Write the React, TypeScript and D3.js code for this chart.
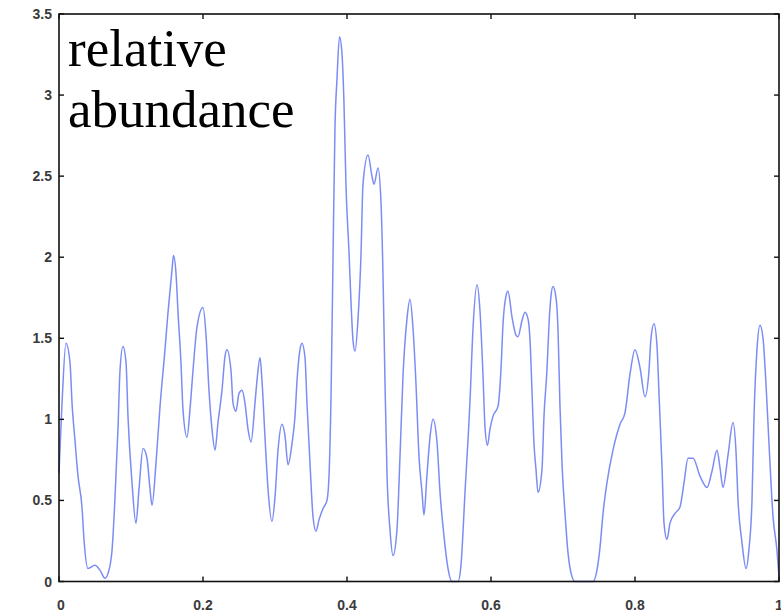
import React, { useEffect, useRef } from "react";
import * as d3 from "d3";

const xValues = [
  0, 0.0042, 0.0097, 0.0153, 0.0181, 0.0222, 0.0264, 0.0319, 0.0347, 0.0403, 0.05, 0.0569, 0.0639, 0.0681,
  0.0736, 0.0778, 0.0819, 0.0847, 0.0889, 0.0931, 0.0958, 0.1014, 0.1069, 0.1111, 0.1167, 0.1222, 0.1264,
  0.1292, 0.1347, 0.1403, 0.1472, 0.1514, 0.1569, 0.159, 0.1625, 0.1653, 0.1694, 0.1722, 0.1778, 0.1819,
  0.1861, 0.1917, 0.2, 0.2042, 0.2083, 0.2125, 0.2167, 0.2208, 0.2264, 0.2306, 0.2333, 0.2389, 0.2417,
  0.2458, 0.25, 0.2542, 0.2583, 0.2625, 0.2667, 0.2722, 0.275, 0.2792, 0.2819, 0.2861, 0.2903, 0.2958, 0.3,
  0.3042, 0.3097, 0.3139, 0.3181, 0.3236, 0.3278, 0.3306, 0.3347, 0.3375, 0.3417, 0.3444, 0.3486, 0.3528,
  0.3569, 0.3611, 0.3667, 0.3722, 0.375, 0.3778, 0.3806, 0.3833, 0.3861, 0.3896, 0.3931, 0.3958, 0.3986,
  0.4028, 0.4056, 0.4083, 0.4111, 0.4153, 0.4194, 0.4222, 0.4292, 0.4347, 0.4375, 0.4431, 0.4472, 0.45,
  0.4528, 0.4556, 0.4597, 0.4639, 0.4694, 0.4736, 0.4778, 0.4833, 0.4875, 0.4917, 0.4958, 0.5, 0.5042,
  0.5069, 0.5111, 0.5153, 0.5194, 0.525, 0.5292, 0.5347, 0.5403, 0.5458, 0.5542, 0.5583, 0.5639, 0.5708,
  0.575, 0.5806, 0.5847, 0.5889, 0.5917, 0.5951, 0.5986, 0.6028, 0.6097, 0.6139, 0.6167, 0.6208, 0.6236,
  0.6292, 0.6347, 0.6375, 0.6431, 0.6472, 0.6514, 0.6542, 0.6569, 0.6597, 0.6625, 0.6653, 0.6708, 0.6736,
  0.6778, 0.6806, 0.6833, 0.6861, 0.6903, 0.6931, 0.6958, 0.6986, 0.7028, 0.7069, 0.7125, 0.7167, 0.7417,
  0.7472, 0.7514, 0.7556, 0.7611, 0.7694, 0.7792, 0.7861, 0.7931, 0.8, 0.8069, 0.8139, 0.8194, 0.8222,
  0.8264, 0.8306, 0.8333, 0.8375, 0.8403, 0.8444, 0.8486, 0.8556, 0.8625, 0.8681, 0.8736, 0.8806, 0.8903,
  0.9, 0.9069, 0.9139, 0.9181, 0.9222, 0.9292, 0.9361, 0.9403, 0.9431, 0.9486, 0.9542, 0.9583, 0.9625,
  0.9653, 0.9694, 0.9736, 0.9778, 0.9819, 0.9861, 0.9917, 0.9972, 1.0,
];

const abundance = [
  0.67, 1.1, 1.47, 1.35, 1.1, 0.87, 0.65, 0.46, 0.26, 0.08, 0.1, 0.07, 0.02, 0.05,
  0.19, 0.52, 0.94, 1.3, 1.45, 1.35, 1.02, 0.61, 0.36, 0.57, 0.82, 0.76, 0.57,
  0.47, 0.73, 1.08, 1.43, 1.66, 1.92, 2.01, 1.9, 1.66, 1.35, 1.06, 0.89, 1.06,
  1.3, 1.57, 1.69, 1.52, 1.18, 0.94, 0.81, 0.98, 1.18, 1.39, 1.43, 1.3, 1.1,
  1.05, 1.16, 1.18, 1.1, 0.94, 0.86, 1.1, 1.24, 1.38, 1.24, 0.89, 0.57, 0.37, 0.52,
  0.81, 0.97, 0.9, 0.72, 0.85, 1.02, 1.24, 1.43, 1.47, 1.38, 1.1, 0.73, 0.4,
  0.31, 0.38, 0.45, 0.5, 0.65, 1.14, 2.0, 2.8, 3.1, 3.36, 3.25, 2.95, 2.44,
  2.03, 1.72, 1.49, 1.42, 1.62, 2.01, 2.45, 2.63, 2.5, 2.45, 2.55, 2.34, 1.89,
  1.22, 0.66, 0.32, 0.16, 0.32, 0.77, 1.27, 1.62, 1.74, 1.56, 1.22, 0.77, 0.55,
  0.41, 0.66, 0.89, 1.0, 0.86, 0.55, 0.28, 0.08, 0, 0, 0.1, 0.55, 1.11,
  1.56, 1.83, 1.67, 1.27, 0.95, 0.84, 0.94, 1.02, 1.08, 1.31, 1.59, 1.76, 1.79,
  1.63, 1.52, 1.51, 1.61, 1.66, 1.62, 1.49, 1.18, 0.85, 0.69, 0.55, 0.69, 1.02,
  1.31, 1.59, 1.76, 1.82, 1.75, 1.55, 1.08, 0.73, 0.42, 0.18, 0.03, 0, 0,
  0.07, 0.21, 0.42, 0.61, 0.81, 0.97, 1.04, 1.28, 1.43, 1.32, 1.14, 1.3, 1.5,
  1.59, 1.45, 1.16, 0.71, 0.36, 0.26, 0.36, 0.42, 0.46, 0.61, 0.76, 0.76, 0.65,
  0.58, 0.68, 0.81, 0.7, 0.58, 0.78, 0.98, 0.8, 0.5, 0.24, 0.08, 0.2, 0.5,
  1.02, 1.43, 1.58, 1.5, 1.22, 0.85, 0.4, 0.19, 0.03,
];

const xTicks = [0, 0.2, 0.4, 0.6, 0.8, 1];
const xTickLabels = ["0", "0.2", "0.4", "0.6", "0.8", "1"];
const yTicks = [0, 0.5, 1, 1.5, 2, 2.5, 3, 3.5];
const yTickLabels = ["0", "0.5", "1", "1.5", "2", "2.5", "3", "3.5"];
const annotationLines = ["relative", "abundance"];

const W = 781;
const H = 614;
const margin = { left: 59, right: 2, top: 14, bottom: 32.5 };

export default function App() {
  const ref = useRef<SVGSVGElement>(null);

  useEffect(() => {
    const svg = d3.select(ref.current);
    svg.selectAll("*").remove();

    const x = d3.scaleLinear().domain([0, 1]).range([margin.left, W - margin.right]);
    const y = d3.scaleLinear().domain([0, 3.5]).range([H - margin.bottom, margin.top]);

    const data = xValues.map((v, i) => [v, abundance[i]] as [number, number]);

    const line = d3
      .line<[number, number]>()
      .x((d) => x(d[0]))
      .y((d) => y(d[1]))
      .curve(d3.curveMonotoneX);

    svg
      .append("path")
      .attr("d", line(data) as string)
      .attr("fill", "none")
      .attr("stroke", "#5a6ff2")
      .attr("stroke-width", 1.5)
      .attr("stroke-opacity", 0.8);

    const x0 = x(0), x1 = x(1), y0 = y(0), y1 = y(3.5);
    const tickLen = 5;
    const axisColor = "#111";

    svg
      .append("rect")
      .attr("x", x0)
      .attr("y", y1)
      .attr("width", x1 - x0)
      .attr("height", y0 - y1)
      .attr("fill", "none")
      .attr("stroke", axisColor)
      .attr("stroke-width", 1.6);

    xTicks.forEach((t, i) => {
      const px = x(t);
      svg.append("line").attr("x1", px).attr("x2", px).attr("y1", y0).attr("y2", y0 - tickLen)
        .attr("stroke", axisColor).attr("stroke-width", 1.4);
      svg.append("line").attr("x1", px).attr("x2", px).attr("y1", y1).attr("y2", y1 + tickLen)
        .attr("stroke", axisColor).attr("stroke-width", 1.4);
      svg.append("text")
        .attr("x", px + (i === 0 ? 2 : 0))
        .attr("y", y0 + 28)
        .attr("text-anchor", "middle")
        .attr("font-family", "Liberation Sans, Arial, sans-serif")
        .attr("font-size", 14)
        .attr("font-weight", "bold")
        .attr("fill", "#3a3a3a")
        .text(xTickLabels[i]);
    });

    yTicks.forEach((t, i) => {
      const py = y(t);
      svg.append("line").attr("x1", x0).attr("x2", x0 + tickLen).attr("y1", py).attr("y2", py)
        .attr("stroke", axisColor).attr("stroke-width", 1.4);
      svg.append("line").attr("x1", x1).attr("x2", x1 - tickLen).attr("y1", py).attr("y2", py)
        .attr("stroke", axisColor).attr("stroke-width", 1.4);
      svg.append("text")
        .attr("x", x0 - 7)
        .attr("y", py + 5)
        .attr("text-anchor", "end")
        .attr("font-family", "Liberation Sans, Arial, sans-serif")
        .attr("font-size", 14)
        .attr("font-weight", "bold")
        .attr("fill", "#3a3a3a")
        .text(yTickLabels[i]);
    });

    annotationLines.forEach((s, i) => {
      svg.append("text")
        .attr("x", x0 + 9)
        .attr("y", 66 + i * 61)
        .attr("font-family", "Liberation Serif, Times New Roman, serif")
        .attr("font-size", 53)
        .attr("fill", "#000")
        .text(s);
    });
  }, []);

  return (
    <svg
      ref={ref}
      width={W}
      height={H}
      style={{ position: "absolute", left: 0, top: 0, background: "#fff", overflow: "hidden" }}
    />
  );
}
